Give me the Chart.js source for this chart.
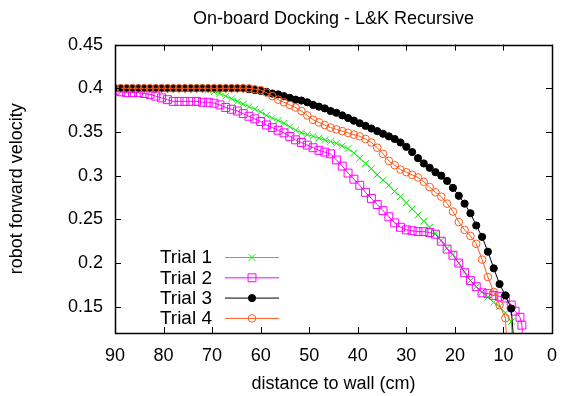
<!DOCTYPE html>
<html>
<head>
<meta charset="utf-8">
<script src="https://cdn.jsdelivr.net/npm/chart.js@4/dist/chart.umd.min.js"></script>
<style>
  html, body { margin: 0; padding: 0; background: #fff; }
  #wrap { width: 570px; height: 396px; }
</style>
</head>
<body>
<div id="wrap"><canvas id="dockChart"></canvas></div>
<script>
// distance to wall (cm) shared by the sampled points
const distance = [90, 88.8, 87.6, 86.4, 85.2, 84, 82.8, 81.6, 80.4, 79.2, 78, 76.8, 75.6, 74.4, 73.2,
  72, 70.8, 69.6, 68.4, 67.2, 66, 64.8, 63.6, 62.4, 61.2, 60, 58.8, 57.6, 56.4, 55.2, 54, 52.8, 51.6,
  50.4, 49.2, 48, 46.8, 45.6, 44.4, 43.2, 42, 40.8, 39.6, 38.4, 37.2, 36, 34.8, 33.6, 32.4, 31.2, 30,
  28.8, 27.6, 26.4, 25.2, 24, 22.8, 21.6, 20.4, 19.2, 18, 16.8, 15.6, 14.4, 13.2, 12, 10.8, 9.6];

const trial1 = [0.400, 0.400, 0.400, 0.400, 0.400, 0.400, 0.400, 0.400, 0.400, 0.400, 0.400, 0.400, 0.400, 0.400, 0.400,
  0.400, 0.398, 0.396, 0.394, 0.391, 0.388, 0.385, 0.382, 0.379, 0.376, 0.373, 0.369, 0.366, 0.363, 0.360, 0.356, 0.352, 0.349,
  0.347, 0.345, 0.343, 0.341, 0.339, 0.337, 0.334, 0.331, 0.326, 0.320, 0.314, 0.308, 0.301, 0.295, 0.289, 0.282, 0.276, 0.269,
  0.262, 0.255, 0.248, 0.241, 0.234, 0.226, 0.217, 0.210, 0.200, 0.190, 0.180, 0.173, 0.167, 0.161, 0.155, 0.150, 0.143];
const trial1TailDist = [8.4, 8.0];
const trial1TailVel = [0.133, 0.100];

const trial2 = [0.397, 0.396, 0.395, 0.395, 0.395, 0.394, 0.393, 0.391, 0.389, 0.387, 0.385, 0.385, 0.385, 0.385, 0.385,
  0.384, 0.384, 0.383, 0.381, 0.378, 0.376, 0.374, 0.371, 0.368, 0.365, 0.362, 0.358, 0.355, 0.352, 0.349, 0.345, 0.341, 0.338,
  0.335, 0.332, 0.329, 0.327, 0.325, 0.318, 0.311, 0.303, 0.296, 0.289, 0.281, 0.274, 0.267, 0.260, 0.253, 0.246, 0.241, 0.238,
  0.237, 0.236, 0.236, 0.235, 0.233, 0.225, 0.216, 0.209, 0.200, 0.189, 0.180, 0.173, 0.166, 0.165, 0.163, 0.162, 0.160];
const trial2TailDist = [8.4, 7.6, 6.6, 6.2, 6.0];
const trial2TailVel = [0.152, 0.145, 0.138, 0.129, 0.110];

const trial3 = [0.400, 0.400, 0.400, 0.400, 0.400, 0.400, 0.400, 0.400, 0.400, 0.400, 0.400, 0.400, 0.400, 0.400, 0.400,
  0.400, 0.400, 0.400, 0.400, 0.400, 0.400, 0.400, 0.400, 0.399, 0.398, 0.397, 0.396, 0.394, 0.393, 0.391, 0.389, 0.387, 0.386,
  0.384, 0.381, 0.379, 0.377, 0.374, 0.372, 0.369, 0.366, 0.363, 0.360, 0.357, 0.354, 0.351, 0.348, 0.345, 0.342, 0.338, 0.333,
  0.327, 0.320, 0.314, 0.309, 0.304, 0.300, 0.294, 0.286, 0.277, 0.268, 0.257, 0.243, 0.230, 0.213, 0.194, 0.176, 0.163];
const trial3TailDist = [8.4, 7.8];
const trial3TailVel = [0.148, 0.105];

const trial4 = [0.400, 0.400, 0.400, 0.400, 0.400, 0.400, 0.400, 0.400, 0.400, 0.400, 0.400, 0.400, 0.400, 0.400, 0.400,
  0.400, 0.400, 0.400, 0.400, 0.400, 0.400, 0.400, 0.400, 0.400, 0.399, 0.398, 0.395, 0.391, 0.387, 0.384, 0.381, 0.378, 0.374,
  0.369, 0.364, 0.361, 0.358, 0.355, 0.353, 0.351, 0.349, 0.347, 0.345, 0.342, 0.338, 0.332, 0.325, 0.317, 0.312, 0.307, 0.304,
  0.301, 0.298, 0.293, 0.287, 0.281, 0.276, 0.268, 0.259, 0.247, 0.238, 0.231, 0.222, 0.204, 0.184, 0.167, 0.152, 0.137];
const trial4TailDist = [9.2];
const trial4TailVel = [0.100];

const trialNames = ["Trial 1", "Trial 2", "Trial 3", "Trial 4"];
const xTicks = [0, 10, 20, 30, 40, 50, 60, 70, 80, 90];
const yTicks = [0.15, 0.2, 0.25, 0.3, 0.35, 0.4, 0.45];

const FONT = "'Liberation Sans', Arial, sans-serif";

function toPoints(vals, tailDist, tailVel) {
    const pts = vals.map((v, i) => ({ x: distance[i], y: v }));
    tailDist.forEach((d, i) => pts.push({ x: d, y: tailVel[i] }));
    return pts;
}

function makeSet(label, pts, color, style, radius, filled, order) {
    return {
        label: label,
        data: pts,
        borderColor: color,
        borderWidth: 1,
        pointStyle: style,
        pointRadius: radius,
        pointBorderColor: color,
        pointBackgroundColor: filled ? color : "rgba(0,0,0,0)",
        pointBorderWidth: 1,
        tension: 0,
        order: order
    };
}

// gnuplot style frame with inward ticks on all sides, plus the key
const framePlugin = {
    id: "framePlugin",
    afterDatasetsDraw(chart) {
        const ctx = chart.ctx;
        const a = chart.chartArea;
        const xs = chart.scales.x, ys = chart.scales.y;
        const len = 6;
        ctx.save();
        ctx.strokeStyle = "#000";
        ctx.lineWidth = 1;
        ctx.beginPath();
        xTicks.forEach(t => {
            const px = Math.round(xs.getPixelForValue(t)) + 0.5;
            ctx.moveTo(px, a.bottom); ctx.lineTo(px, a.bottom - len);
            ctx.moveTo(px, a.top); ctx.lineTo(px, a.top + len);
        });
        yTicks.forEach(t => {
            const py = Math.round(ys.getPixelForValue(t)) + 0.5;
            ctx.moveTo(a.left, py); ctx.lineTo(a.left + len, py);
            ctx.moveTo(a.right, py); ctx.lineTo(a.right - len, py);
        });
        ctx.stroke();
        ctx.lineWidth = 1.5;
        ctx.strokeRect(Math.round(a.left) + 0.5, Math.round(a.top) + 0.5,
            Math.round(a.right - a.left), Math.round(a.bottom - a.top));

        // key, bottom left inside the plot
        const textRight = a.left + 97;
        const lineStart = a.left + 110;
        const lineEnd = a.left + 164;
        ctx.font = "19px " + FONT;
        ctx.textAlign = "right";
        ctx.textBaseline = "middle";
        chart.data.datasets.forEach((ds, i) => {
            const y = a.bottom - 76 + i * 20.3;
            ctx.fillStyle = "#000";
            ctx.fillText(ds.label, textRight, y + 1);
            ctx.strokeStyle = ds.borderColor;
            ctx.lineWidth = 1;
            ctx.beginPath();
            ctx.moveTo(lineStart, y + 0.5);
            ctx.lineTo(lineEnd, y + 0.5);
            ctx.stroke();
            ctx.fillStyle = ds.pointBackgroundColor;
            ctx.strokeStyle = ds.pointBorderColor;
            Chart.helpers.drawPoint(ctx, {
                pointStyle: ds.pointStyle, radius: ds.pointRadius,
                rotation: 0, borderWidth: 1
            }, (lineStart + lineEnd) / 2, y + 0.5);
        });
        ctx.restore();
    }
};

const ctx = document.getElementById("dockChart").getContext("2d");
new Chart(ctx, {
    type: "line",
    data: {
        datasets: [
            makeSet(trialNames[0], toPoints(trial1, trial1TailDist, trial1TailVel), "#10ee10", "crossRot", 4.8, false, 4),
            makeSet(trialNames[1], toPoints(trial2, trial2TailDist, trial2TailVel), "#ff00ff", "rect", 5.6, false, 3),
            makeSet(trialNames[2], toPoints(trial3, trial3TailDist, trial3TailVel), "#000000", "circle", 3.6, true, 2),
            makeSet(trialNames[3], toPoints(trial4, trial4TailDist, trial4TailVel), "#ff5a1e", "circle", 3.8, false, 1)
        ]
    },
    options: {
        responsive: true,
        maintainAspectRatio: false,
        animation: false,
        devicePixelRatio: 1,
        layout: { padding: { top: 0, right: 18, bottom: 0, left: 0 } },
        plugins: {
            legend: { display: false },
            tooltip: { enabled: false },
            title: {
                display: true,
                text: "On-board Docking - L&K Recursive",
                fullSize: false,
                color: "#000",
                font: { family: FONT, size: 18, weight: "normal" },
                padding: { top: 8, bottom: 15 }
            }
        },
        scales: {
            x: {
                type: "linear",
                reverse: true,
                min: 0,
                max: 90,
                afterFit: s => { s.height = 63; },
                afterBuildTicks: s => { s.ticks = xTicks.map(v => ({ value: v })); },
                grid: { display: false, drawTicks: false },
                border: { display: false },
                ticks: {
                    color: "#000",
                    padding: 12,
                    maxRotation: 0,
                    font: { family: FONT, size: 18 },
                    callback: v => String(v)
                },
                title: {
                    display: true,
                    text: "distance to wall (cm)",
                    color: "#000",
                    font: { family: FONT, size: 18 },
                    padding: { top: 0, bottom: 1 }
                }
            },
            y: {
                type: "linear",
                min: 0.12,
                max: 0.45,
                afterFit: s => { s.width = 115; },
                afterBuildTicks: s => { s.ticks = yTicks.map(v => ({ value: v })); },
                grid: { display: false, drawTicks: false },
                border: { display: false },
                ticks: {
                    color: "#000",
                    padding: 12,
                    font: { family: FONT, size: 18 },
                    callback: v => String(v)
                },
                title: {
                    display: true,
                    text: "robot forward velocity",
                    color: "#000",
                    font: { family: FONT, size: 18 },
                    padding: { top: 6, bottom: 0 }
                }
            }
        }
    },
    plugins: [framePlugin]
});
</script>
</body>
</html>
